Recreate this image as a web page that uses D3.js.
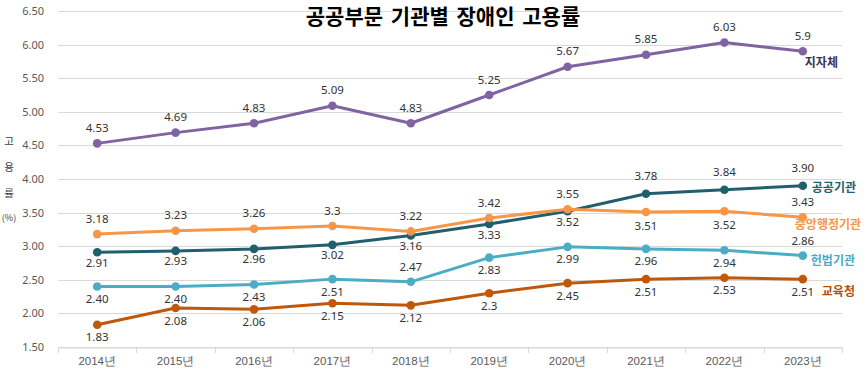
<!DOCTYPE html>
<html><head><meta charset="utf-8">
<script src="https://cdn.jsdelivr.net/npm/d3@7/dist/d3.min.js"></script>
<style>
html,body{margin:0;padding:0;background:#fff;}
svg{display:block;font-family:"Noto Sans CJK KR","Noto Sans",sans-serif;}
</style></head>
<body>
<svg id="chart" width="867" height="382"></svg>
<script>
const title = "공공부문 기관별 장애인 고용률";
const years = ["2014년","2015년","2016년","2017년","2018년","2019년","2020년","2021년","2022년","2023년"];
const yTicks = [1.5,2.0,2.5,3.0,3.5,4.0,4.5,5.0,5.5,6.0,6.5];
const seriesNames = ["지자체","공공기관","중앙행정기관","헌법기관","교육청"];
const localGov = [4.53,4.69,4.83,5.09,4.83,5.25,5.67,5.85,6.03,5.9];
const localGovLabels = ["4.53","4.69","4.83","5.09","4.83","5.25","5.67","5.85","6.03","5.9"];
const publicInst = [2.91,2.93,2.96,3.02,3.16,3.33,3.52,3.78,3.84,3.90];
const publicInstLabels = ["2.91","2.93","2.96","3.02","3.16","3.33","3.52","3.78","3.84","3.90"];
const centralGov = [3.18,3.23,3.26,3.3,3.22,3.42,3.55,3.51,3.52,3.43];
const centralGovLabels = ["3.18","3.23","3.26","3.3","3.22","3.42","3.55","3.51","3.52","3.43"];
const constInst = [2.40,2.40,2.43,2.51,2.47,2.83,2.99,2.96,2.94,2.86];
const constInstLabels = ["2.40","2.40","2.43","2.51","2.47","2.83","2.99","2.96","2.94","2.86"];
const education = [1.83,2.08,2.06,2.15,2.12,2.3,2.45,2.51,2.53,2.51];
const educationLabels = ["1.83","2.08","2.06","2.15","2.12","2.3","2.45","2.51","2.53","2.51"];

// label placement (style): 1 = above, -1 = below
const placement = [
  [1,1,1,1,1,1,1,1,1,1],
  [-1,-1,-1,-1,-1,-1,-1,1,1,1],
  [1,1,1,1,1,1,1,-1,-1,1],
  [-1,-1,-1,-1,1,-1,-1,-1,-1,1],
  [-1,-1,-1,-1,-1,-1,-1,-1,-1,-1]
];
const offAbove = [-14.5,-16.5,-14.5,-13.5,-14.5];
const offBelow = [13.5,11.5,14.5,13.5,13.5];
const colors = ["#8064A2","#215F6E","#F79646","#4BACC6","#C0580B"];
const nameColors = ["#403152","#215F6E","#F79646","#4BACC6","#B0500A"];
const nameOffsets = [[2,12],[9,3],[-8,8.5],[8,6],[19,14]];

const series = [
  {name:seriesNames[0], values:localGov, labels:localGovLabels},
  {name:seriesNames[1], values:publicInst, labels:publicInstLabels},
  {name:seriesNames[2], values:centralGov, labels:centralGovLabels},
  {name:seriesNames[3], values:constInst, labels:constInstLabels},
  {name:seriesNames[4], values:education, labels:educationLabels}
];

const svg = d3.select("#chart");
const pLeft = 58, pRight = 842, pTop = 11, pBottom = 347;
const x = d3.scaleBand().domain(years).range([pLeft,pRight]).padding(0);
const y = d3.scaleLinear().domain([1.5,6.5]).range([pBottom,pTop]);
const cx = d => x(d) + x.bandwidth()/2;

// gridlines
svg.append("g").selectAll("line").data(yTicks).join("line")
  .attr("x1",pLeft).attr("x2",pRight)
  .attr("y1",d=>Math.round(y(d))+0.5).attr("y2",d=>Math.round(y(d))+0.5)
  .attr("stroke","#d9d9d9").attr("stroke-width",1);

// y axis labels
const yAxis = d3.axisLeft(y).tickValues(yTicks).tickFormat(d3.format(".2f")).tickSize(0).tickPadding(0);
const yg = svg.append("g").attr("transform",`translate(${pLeft-14},0)`).call(yAxis);
yg.select(".domain").remove();
yg.selectAll("text").attr("fill","#595959").style("font-size","11px").style("font-family","'Noto Sans','Noto Sans CJK KR',sans-serif");

// x axis
const xAxis = d3.axisBottom(x).tickSize(0).tickPadding(0);
const xg = svg.append("g").attr("transform",`translate(0,${Math.round(pBottom)+0.5})`).call(xAxis);
xg.select(".domain").attr("stroke","#d9d9d9");
xg.selectAll("text").attr("fill","#595959").attr("dy","0").attr("y",17).style("font-size","11.5px");
const boundaries = years.map(d=>x(d)).concat([pRight]);
svg.append("g").selectAll("line").data(boundaries).join("line")
  .attr("x1",d=>Math.round(d)+0.5).attr("x2",d=>Math.round(d)+0.5)
  .attr("y1",Math.round(pBottom)+0.5).attr("y2",Math.round(pBottom)+6)
  .attr("stroke","#d9d9d9");

// y axis title
const yTitle = ["고","용","률","(%)"];
const yTitleY = [142,168,194,219];
svg.append("g").selectAll("text").data(yTitle).join("text")
  .attr("x",9).attr("y",(d,i)=>yTitleY[i]).attr("text-anchor","middle")
  .attr("dominant-baseline","middle")
  .attr("fill","#404040").style("font-size",(d,i)=>i<3?"10.5px":"9px").text(d=>d);

// title
svg.append("text").attr("x",443).attr("y",24).attr("text-anchor","middle")
  .attr("fill","#000").style("font-size","21px").style("font-weight","bold")
  .style("word-spacing","3px").text(title);

// lines
const line = d3.line().x((d,i)=>cx(years[i])).y(d=>y(d));
series.forEach((s,si)=>{
  const g = svg.append("g");
  g.append("path").datum(s.values).attr("d",line).attr("fill","none")
    .attr("stroke",colors[si]).attr("stroke-width",3).attr("stroke-linejoin","round");
  g.selectAll("circle").data(s.values).join("circle")
    .attr("cx",(d,i)=>cx(years[i])).attr("cy",d=>y(d)).attr("r",4.3).attr("fill",colors[si]);
});
// data labels
series.forEach((s,si)=>{
  svg.append("g").selectAll("text").data(s.values).join("text")
    .attr("x",(d,i)=>cx(years[i]))
    .attr("y",(d,i)=>y(d) + (placement[si][i]>0 ? offAbove[si] : offBelow[si]))
    .attr("text-anchor","middle").attr("dominant-baseline","middle")
    .attr("fill","#333").style("font-size","11.5px")
    .style("font-family","'Noto Sans','Noto Sans CJK KR',sans-serif")
    .text((d,i)=>s.labels[i]);
  const last = s.values.length-1;
  svg.append("text")
    .attr("x",cx(years[last])+nameOffsets[si][0])
    .attr("y",y(s.values[last])+nameOffsets[si][1])
    .attr("dominant-baseline","middle")
    .attr("fill",nameColors[si]).style("font-size","12px").style("font-weight","bold")
    .text(s.name);
});
</script>
</body></html>
